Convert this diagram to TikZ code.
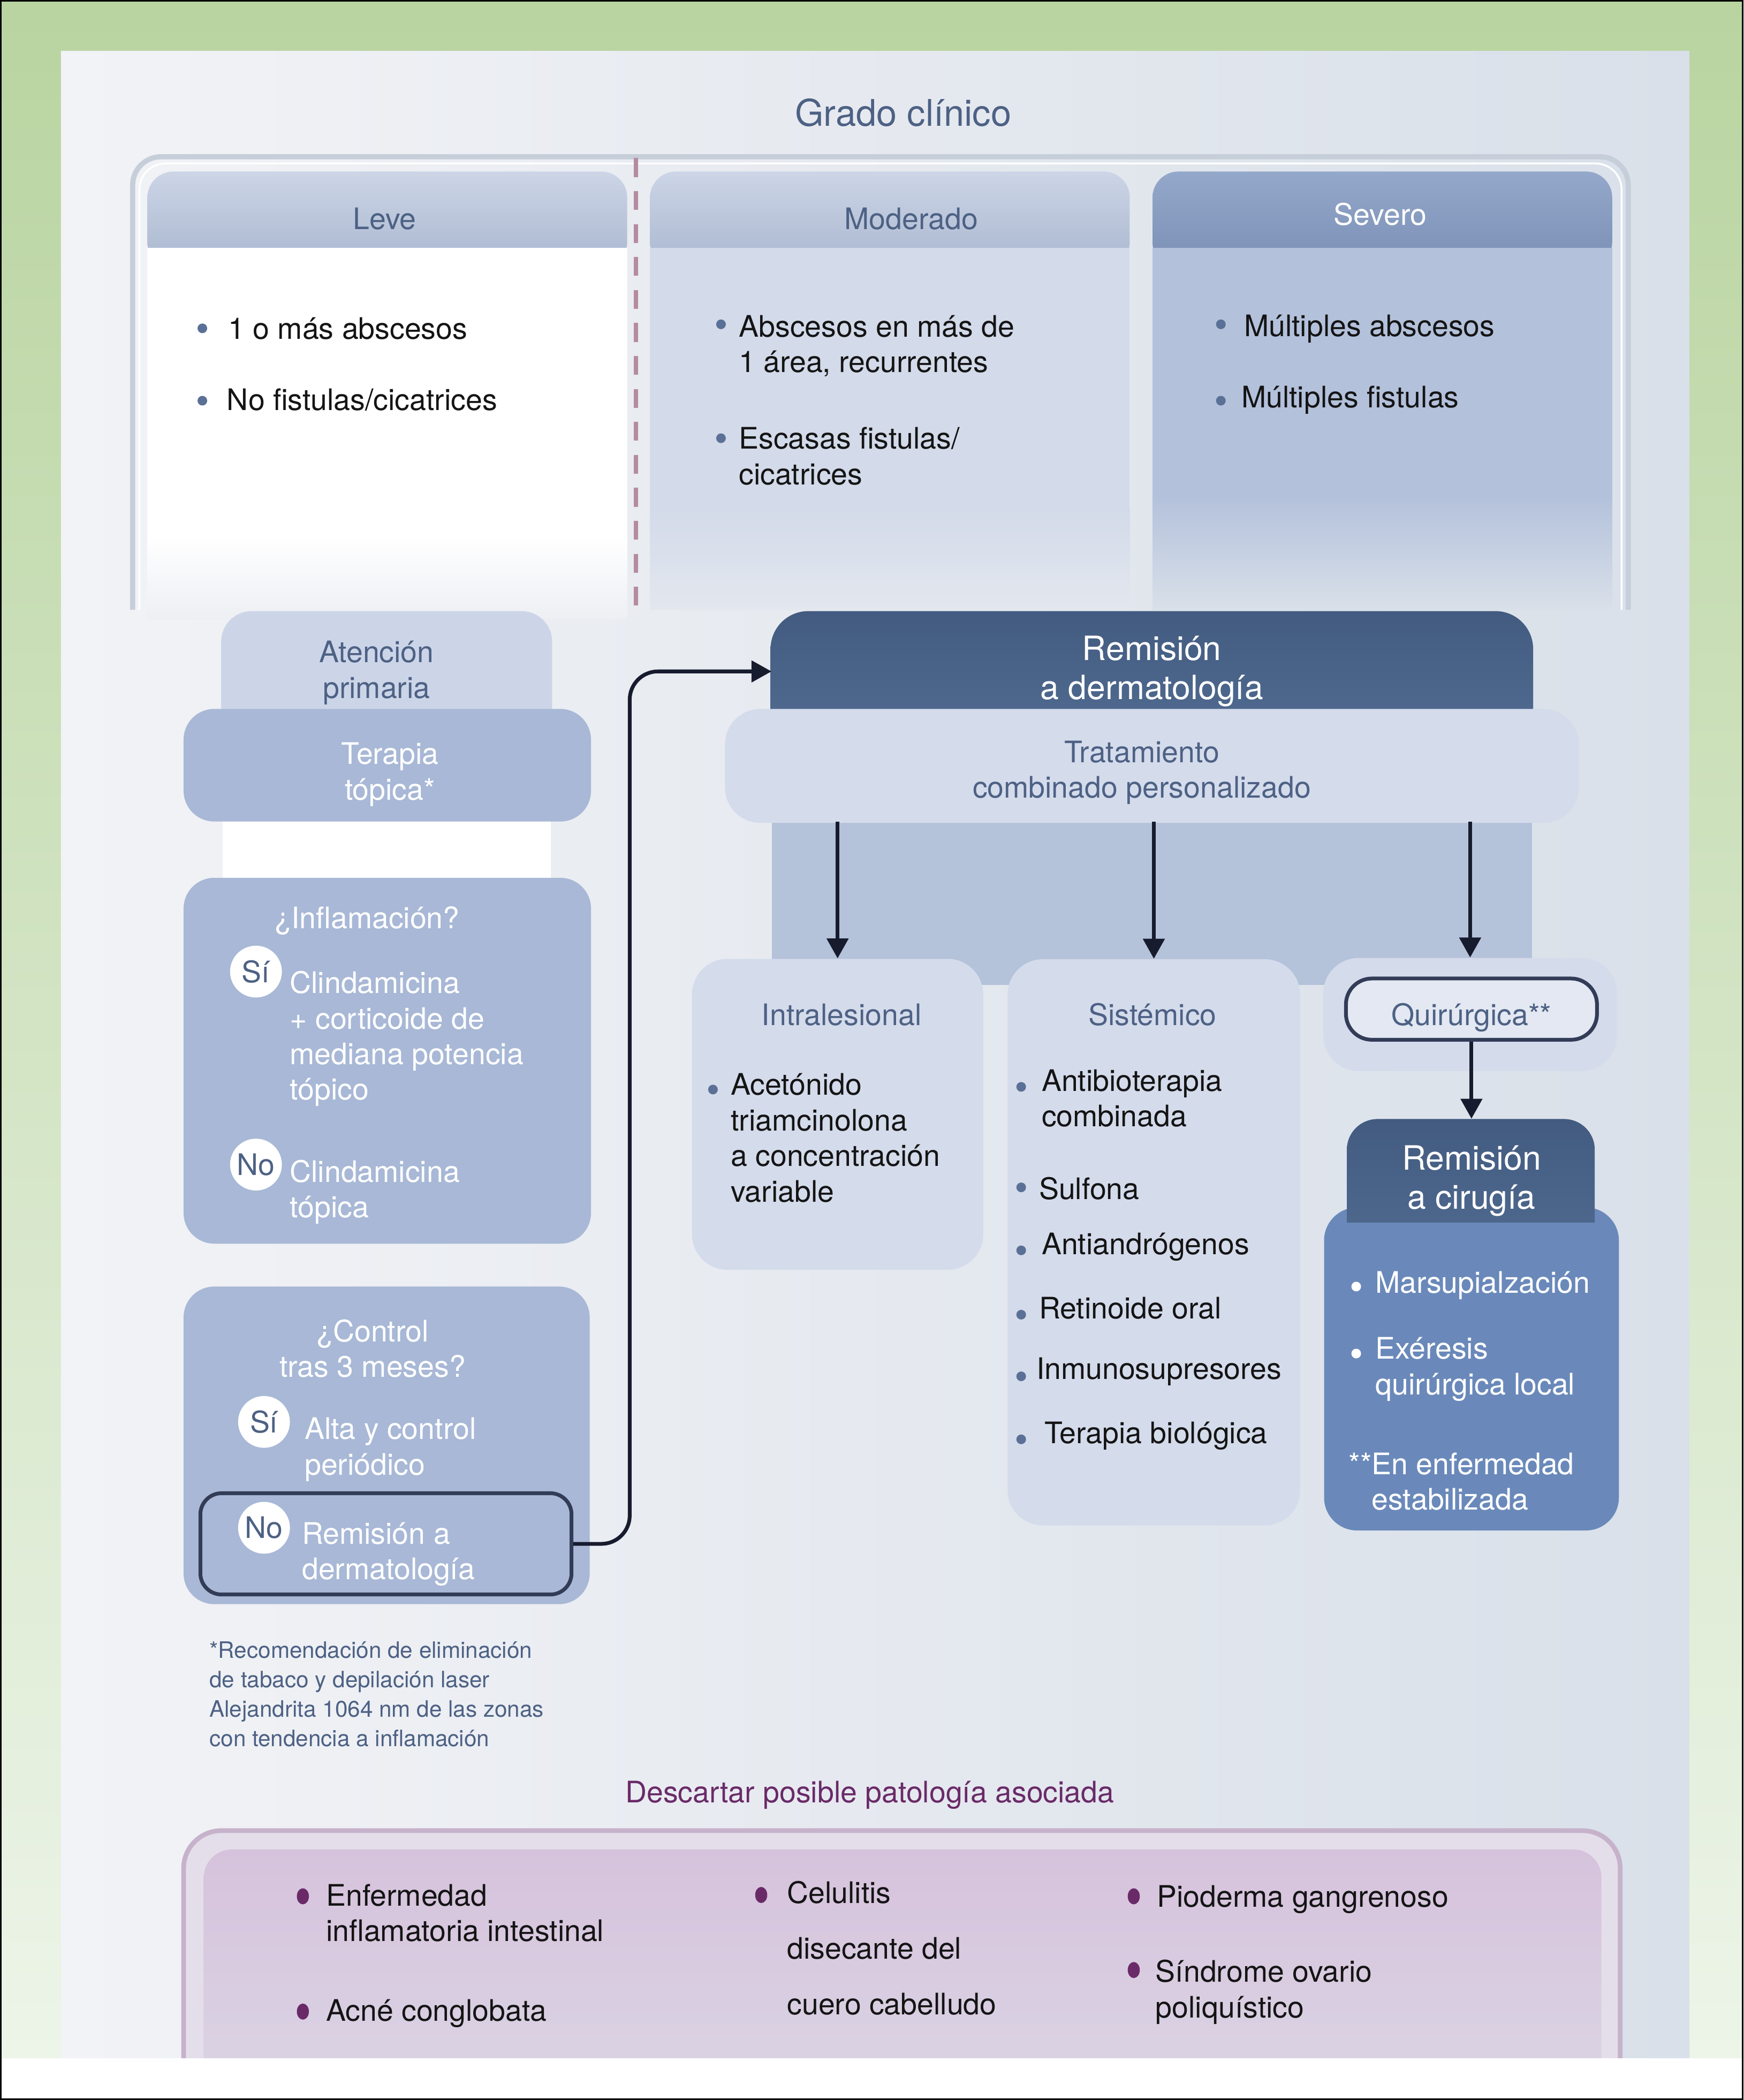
\documentclass[tikz,border=0pt]{standalone}
\usepackage{fontspec}
\setmainfont{TeX Gyre Heros}
\usetikzlibrary{arrows.meta,shapes.geometric}
\definecolor{tblue}{HTML}{4D6184}
\definecolor{ink}{HTML}{141414}
\definecolor{dotb}{HTML}{5A7096}
\definecolor{frameg}{HTML}{B9D4A0}
\definecolor{frameg2}{HTML}{EEF5EA}
\definecolor{panelL}{HTML}{F2F3F6}
\definecolor{panelR}{HTML}{D9E0E9}
\definecolor{hdrT}{HTML}{CDD5E7}
\definecolor{hdrB}{HTML}{A9B7CF}
\definecolor{sevT}{HTML}{94A8CB}
\definecolor{sevB}{HTML}{7A8FB4}
\definecolor{modbody}{HTML}{D3DAE9}
\definecolor{sevbody}{HTML}{B3C1DB}
\definecolor{lightbox}{HTML}{D4DBEB}
\definecolor{tabc}{HTML}{CCD5E8}
\definecolor{medbox}{HTML}{A8B8D6}
\definecolor{midblock}{HTML}{B4C2DA}
\definecolor{darkT}{HTML}{435B80}
\definecolor{darkB}{HTML}{536E94}
\definecolor{cirblue}{HTML}{6A89BA}
\definecolor{arrowc}{HTML}{171B2E}
\definecolor{outl}{HTML}{323C57}
\definecolor{dashc}{HTML}{B58BA0}
\definecolor{purp}{HTML}{6A2A68}
\definecolor{pinkT}{HTML}{D6C2DC}
\definecolor{pinkB}{HTML}{DCD9E6}
\definecolor{pinkrim}{HTML}{C7B2CB}
\definecolor{pinkgap}{HTML}{E4DEEA}
\definecolor{contl}{HTML}{C6CED9}
\definecolor{quirfill}{HTML}{E3E8F2}
\begin{document}
\begin{tikzpicture}[x=0.2mm,y=-0.2mm,
  stxt/.style={font=\fontsize{12.6}{15.1}\selectfont, inner sep=0pt, align=left, anchor=base west, text=ink},
  swtxt/.style={stxt, text=white},
  slbl/.style={font=\fontsize{12.6}{15.1}\selectfont, inner sep=0pt, align=center, text=tblue},
  swlbl/.style={font=\fontsize{12.6}{15.1}\selectfont, inner sep=0pt, align=center, text=white},
  sbig/.style={font=\fontsize{14.2}{16.6}\selectfont, inner sep=0pt, align=center, text=white},
  sfoot/.style={font=\fontsize{9.6}{12.5}\selectfont, inner sep=0pt, align=left, anchor=base west, text=tblue},
  syn/.style={circle, fill=white, minimum size=22pt, inner sep=0pt, font=\fontsize{12.6}{15}\selectfont, text=tblue},
  sarr/.style={draw=arrowc, line width=1.6pt, -{Triangle[length=8.5pt,width=9pt]}},
]
\useasboundingbox (0,0) rectangle (1301,1567);
% ---------- frame and panel
\shade[top color=frameg, bottom color=frameg2] (0,0) rectangle (1301,1567);
\fill[white] (0,1536) rectangle (1301,1567);
\shade[left color=panelL, right color=panelR] (45.5,38) rectangle (1260.5,1535.5);
\draw[black, line width=0.7pt] (0.6,0.6) rectangle (1300.4,1566.4);

% ---------- top container
\draw[contl, line width=2.2pt, rounded corners=12pt] (99,455) -- (99,117) -- (1215,117) -- (1215,455);
\draw[white, line width=0.8pt, rounded corners=11pt] (104,455) -- (104,122) -- (1210,122) -- (1210,455);

% headers
\shade[top color=hdrT, bottom color=hdrB, rounded corners=11pt] (110,128) rectangle (468,200);
\shade[top color=hdrT, bottom color=hdrB, rounded corners=11pt] (485,128) rectangle (843,200);
\shade[top color=sevT, bottom color=sevB, rounded corners=11pt] (860,128) rectangle (1203,200);
% bodies
\fill[white] (110,185) rectangle (468,400);
\shade[top color=white, bottom color=panelL!80!panelR] (110,400) rectangle (468,462);
\fill[modbody] (485,185) rectangle (843,380);
\shade[top color=modbody, bottom color=panelR!60!panelL] (485,380) rectangle (843,455);
\fill[sevbody] (860,185) rectangle (1203,370);
\shade[top color=sevbody, bottom color=panelR] (860,370) rectangle (1203,455);
% dashed divider
\draw[dashc, line width=2pt, dash pattern=on 8pt off 6pt] (474.5,118) -- (474.5,462);

\node[font=\fontsize{15.6}{18}\selectfont, text=tblue, inner sep=0pt, anchor=base] (title) at (674,94) {Grado clínico};
\node[slbl, anchor=base] (hleve) at (287,171) {Leve};
\node[slbl, anchor=base] (hmod) at (680,171) {Moderado};
\node[swlbl, anchor=base] (hsev) at (1030,168) {Severo};

\fill[dotb] (151,245) circle[radius=3.6];
\node[stxt] (l1) at (170,253) {1 o más abscesos};
\fill[dotb] (151,299) circle[radius=3.6];
\node[stxt] (l2) at (169,306) {No fistulas/cicatrices};

\fill[dotb] (538,242) circle[radius=3.6];
\node[stxt] (m1) at (551,278) {Abscesos en más de\\1 área, recurrentes};
\fill[dotb] (538,327) circle[radius=3.6];
\node[stxt] (m2) at (551,361.6) {Escasas fistulas/\\cicatrices};

\fill[dotb] (911,242) circle[radius=3.6];
\node[stxt] (s1) at (928,251) {Múltiples abscesos};
\fill[dotb] (911,299) circle[radius=3.6];
\node[stxt] (s2) at (926,304) {Múltiples fistulas};

% ---------- left column
\fill[white] (166,600) rectangle (411,665);
\fill[tabc, rounded corners=13pt] (165,456) rectangle (412,560);
\fill[medbox, rounded corners=13pt] (137,529) rectangle (441,613);
\fill[medbox, rounded corners=13pt] (137,655) rectangle (441,928);
\fill[medbox, rounded corners=13pt] (137,960) rectangle (440,1197);

\node[slbl] (aten) at (281,502) {Atención\\primaria};
\node[swlbl] (ter) at (291,578) {Terapia\\tópica*};

\node[swlbl, anchor=base] (infl) at (274,693) {¿Inflamación?};
\node[syn] (si1) at (191,725) {Sí};
\node[swtxt] (si1t) at (216,820.8) {Clindamicina\\+ corticoide de\\mediana potencia\\tópico};
\node[syn] (no1) at (191,869) {No};
\node[swtxt] (no1t) at (216,908.6) {Clindamicina\\tópica};

\node[swlbl, anchor=base] (ctl) at (278,1027.6) {¿Control\\tras 3 meses?};
\node[syn] (si2) at (197,1061) {Sí};
\node[swtxt] (si2t) at (227,1100.6) {Alta y control\\periódico};
\node[draw=outl, line width=1.6pt, rounded corners=9pt, minimum width=157.6pt, minimum height=43pt, inner sep=0pt] (nobox) at (288,1152) {};
\node[syn] (no2) at (197,1140) {No};
\node[swtxt] (no2t) at (225,1178.6) {Remisión a\\dermatología};

\node[sfoot] (fn) at (156,1303) {*Recomendación de eliminación\\de tabaco y depilación laser\\Alejandrita 1064 nm de las zonas\\con tendencia a inflamación};

% ---------- right part
\fill[midblock] (576,600) rectangle (1143,735);
\shade[top color=darkT, bottom color=darkB, rounded corners=16pt] (575,456) rectangle (1144,565);
\fill[lightbox, rounded corners=15pt] (541,529) rectangle (1178,614);
\node[sbig, minimum width=322.6pt] (derm) at (859.5,501) {Remisión\\a dermatología};
\node[slbl, minimum height=41.4pt] (trat) at (852,576.5) {Tratamiento\\combinado personalizado};

\node[fill=lightbox, rounded corners=15pt, minimum width=123.6pt, minimum height=132pt, inner sep=0pt] (intra) at (625,831.5) {};
\node[fill=lightbox, rounded corners=15pt, minimum width=124.2pt, minimum height=240.4pt, inner sep=0pt] (sist) at (861,927) {};
\node[fill=lightbox, rounded corners=15pt, minimum width=124.7pt, minimum height=48pt, inner sep=0pt] (quirbg) at (1097,757) {};

\draw[sarr] (intra.north |- trat.south) -- (intra.north);
\draw[sarr] (sist.north |- trat.south) -- (sist.north);
\draw[sarr] (quirbg.north |- trat.south) -- (quirbg.north);

\node[slbl, anchor=base] (intrat) at (628,765) {Intralesional};
\fill[dotb] (532,813) circle[radius=3.6];
\node[stxt] (intrai) at (545,896.8) {Acetónido\\triamcinolona\\a concentración\\variable};

\node[slbl, anchor=base] (sistt) at (860,765) {Sistémico};
\fill[dotb] (762,811) circle[radius=3.6];
\node[stxt] (sa) at (777,840.6) {Antibioterapia\\combinada};
\fill[dotb] (762,886) circle[radius=3.6];
\node[stxt] (sb) at (775,895) {Sulfona};
\fill[dotb] (762,933) circle[radius=3.6];
\node[stxt] (sc) at (777,936) {Antiandrógenos};
\fill[dotb] (762,981) circle[radius=3.6];
\node[stxt] (sd) at (775,984) {Retinoide oral};
\fill[dotb] (762,1027) circle[radius=3.6];
\node[stxt] (se) at (773,1029) {Inmunosupresores};
\fill[dotb] (762,1074) circle[radius=3.6];
\node[stxt] (sf) at (779,1077) {Terapia biológica};

\node[draw=outl, line width=1.6pt, fill=quirfill, rounded corners=11pt, minimum width=106.6pt, minimum height=26pt, inner sep=0pt, text height=13.6pt, text depth=0pt, font=\fontsize{12.6}{15.1}\selectfont, text=tblue] (quir) at (1098,753) {Quirúrgica**};

\fill[cirblue, rounded corners=14pt] (988,901) rectangle (1208,1142);
\begin{scope}
  \clip (1005,830) rectangle (1190,912);
  \shade[top color=darkT, bottom color=darkB, rounded corners=13pt] (1005,835) rectangle (1190,960);
\end{scope}
\node[sbig, minimum height=52.2pt] (cir) at (1098,881) {Remisión\\a cirugía};
\draw[sarr] (quir.south) -- (cir.north);

\fill[white] (1012,960) circle[radius=3.6];
\node[swtxt] (ca) at (1026,965) {Marsupialzación};
\fill[white] (1012,1010) circle[radius=3.6];
\node[swtxt] (cb) at (1026,1040.6) {Exéresis\\quirúrgica local};
\node[swtxt] (cc) at (1006,1126.6) {**En enfermedad\\\hphantom{**}estabilizada};

% connector from the No box
\draw[sarr, rounded corners=12pt] (nobox.east) -- ++(42,0) |- (derm.west);

% ---------- associated pathology
\node[font=\fontsize{12.6}{15.1}\selectfont, text=purp, inner sep=0pt, anchor=base] (desc) at (649,1345) {Descartar posible patología asociada};
\begin{scope}
  \clip (0,0) rectangle (1301,1535.5);
  \fill[pinkgap, rounded corners=16pt] (137,1366) rectangle (1209,1600);
  \draw[pinkrim, line width=2pt, rounded corners=16pt] (137,1600) -- (137,1366) -- (1209,1366) -- (1209,1600);
  \shade[top color=pinkT, bottom color=pinkB, rounded corners=12pt] (152,1380) rectangle (1195,1600);
\end{scope}

\fill[purp] (226,1415) ellipse[x radius=4.5, y radius=6];
\node[stxt] (pa) at (243,1448.6) {Enfermedad\\inflamatoria intestinal};
\fill[purp] (226,1501) ellipse[x radius=4.5, y radius=6];
\node[stxt] (pb) at (243,1508) {Acné conglobata};
\fill[purp] (568,1414) ellipse[x radius=4.5, y radius=6];
\node[stxt, font=\fontsize{12.6}{23.6}\selectfont] (pc) at (587,1503.2) {Celulitis\\disecante del\\cuero cabelludo};
\fill[purp] (846,1415) ellipse[x radius=4.5, y radius=6];
\node[stxt] (pd) at (863,1423) {Pioderma gangrenoso};
\fill[purp] (846,1470) ellipse[x radius=4.5, y radius=6];
\node[stxt] (pe) at (862,1505.6) {Síndrome ovario\\poliquístico};
\end{tikzpicture}
\end{document}
